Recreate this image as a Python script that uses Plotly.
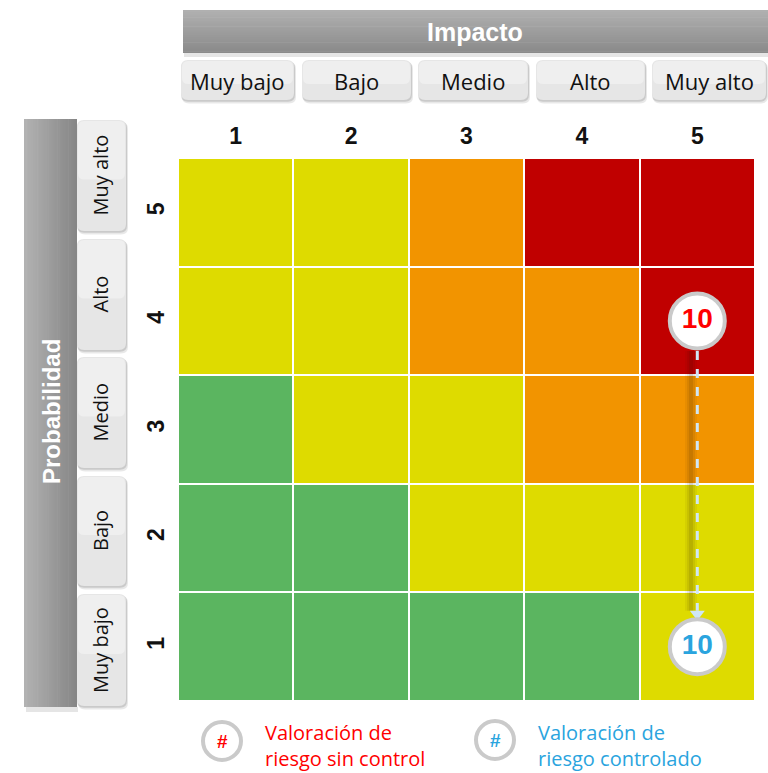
import plotly.graph_objects as go

W, H = 768, 773

# ---------------- data ----------------
impact_labels = ["Muy bajo", "Bajo", "Medio", "Alto", "Muy alto"]
prob_labels = ["Muy bajo", "Bajo", "Medio", "Alto", "Muy alto"]
impact_levels = [1, 2, 3, 4, 5]
prob_levels = [1, 2, 3, 4, 5]
# risk zone per cell (rows = probability 1..5, cols = impact 1..5)
# 0 = bajo (verde), 1 = moderado (amarillo), 2 = alto (naranja), 3 = extremo (rojo)
risk_zone = [
    [0, 0, 0, 0, 1],
    [0, 0, 1, 1, 1],
    [0, 1, 1, 2, 2],
    [1, 1, 2, 2, 3],
    [1, 1, 2, 3, 3],
]
zone_colors = ["#5BB560", "#DEDB00", "#F29400", "#C00000"]
risk_without_control = {"impact": 5, "prob": 4, "label": "10"}
risk_with_control = {"impact": 5, "prob": 1, "label": "10"}
legend_items = ["Valoración de<br>riesgo sin control", "Valoración de<br>riesgo controlado"]

RED = "#FF0000"
BLUE = "#2AA4DE"

# ---------------- helpers ----------------
def px(x):
    return x / W

def py(y):
    return 1 - y / H

shapes = []
annotations = []

def ann(text, x, y, size, color, family, angle=0, xanchor="center"):
    annotations.append(dict(text=text, x=px(x), y=py(y), xref="paper", yref="paper",
                            xanchor=xanchor, yanchor="middle", align="left" if xanchor == "left" else "center",
                            showarrow=False, textangle=angle,
                            font=dict(family=family, size=size, color=color)))

def hx(c):
    return [int(c[i:i + 2], 16) for i in (1, 3, 5)]

def grad_rect(x0, y0, x1, y1, c0, c1, n=24, vertical=True):
    a, b = hx(c0), hx(c1)
    for i in range(n):
        t = i / (n - 1)
        col = "rgb(%d,%d,%d)" % tuple(round(a[k] + (b[k] - a[k]) * t) for k in range(3))
        if vertical:
            ya = y0 + (y1 - y0) * i / n
            yb = y0 + (y1 - y0) * (i + 1) / n + 0.6
            shapes.append(dict(type="rect", xref="paper", yref="paper",
                               x0=px(x0), x1=px(x1), y0=py(ya), y1=py(min(yb, y1)),
                               fillcolor=col, line=dict(width=0), layer="below"))
        else:
            xa = x0 + (x1 - x0) * i / n
            xb = x0 + (x1 - x0) * (i + 1) / n + 0.6
            shapes.append(dict(type="rect", xref="paper", yref="paper",
                               x0=px(xa), x1=px(min(xb, x1)), y0=py(y0), y1=py(y1),
                               fillcolor=col, line=dict(width=0), layer="below"))

def round_rect(x0, y0, x1, y1, r, fill, layer="below"):
    p = (f"M {px(x0 + r)},{py(y0)} L {px(x1 - r)},{py(y0)} "
         f"Q {px(x1)},{py(y0)} {px(x1)},{py(y0 + r)} "
         f"L {px(x1)},{py(y1 - r)} Q {px(x1)},{py(y1)} {px(x1 - r)},{py(y1)} "
         f"L {px(x0 + r)},{py(y1)} Q {px(x0)},{py(y1)} {px(x0)},{py(y1 - r)} "
         f"L {px(x0)},{py(y0 + r)} Q {px(x0)},{py(y0)} {px(x0 + r)},{py(y0)} Z")
    shapes.append(dict(type="path", xref="paper", yref="paper", path=p,
                       fillcolor=fill, line=dict(width=0), layer=layer))

def label_box(x0, y0, x1, y1):
    round_rect(x0 + 1, y0 + 2, x1 + 2, y1 + 3.5, 7, "rgba(0,0,0,0.09)")
    round_rect(x0, y0 + 1, x1 + 1, y1 + 1.8, 7, "rgba(0,0,0,0.13)")
    round_rect(x0, y0, x1, y1, 7, "#E6E6E6")
    # soft lighter top half
    round_rect(x0 + 1, y0 + 1, x1 - 1, (y0 + y1) / 2 + 4, 6, "rgba(255,255,255,0.35)")

LBL_FONT = "Open Sans, Lato, sans-serif"
BOLD_FONT = "Liberation Sans, Arial, sans-serif"

# ---------------- Impacto header ----------------
shapes.append(dict(type="rect", xref="paper", yref="paper", x0=px(184), x1=px(768),
                   y0=py(53), y1=py(57), fillcolor="rgba(0,0,0,0.10)", line=dict(width=0), layer="below"))
grad_rect(183, 10, 768, 53, "#B0B0B0", "#8A8A8A", vertical=True)
ann("<b>Impacto</b>", 475, 32, 25, "white", BOLD_FONT)

col_boxes = [(181, 294), (302, 411), (418, 528), (536, 645), (652, 766)]
for (a, b), lab in zip(col_boxes, impact_labels):
    label_box(a, 60, b, 100)
    ann(lab, (a + b) / 2, 81, 22, "#111111", LBL_FONT)

# ---------------- Probabilidad header ----------------
shapes.append(dict(type="rect", xref="paper", yref="paper", x0=px(26), x1=px(78),
                   y0=py(707), y1=py(712), fillcolor="rgba(0,0,0,0.10)", line=dict(width=0), layer="below"))
grad_rect(24, 119, 77, 707, "#B2B2B2", "#868686", vertical=False)
ann("<b>Probabilidad</b>", 51, 412, 24, "white", BOLD_FONT, angle=-90)

row_boxes = [(594, 706), (476, 586), (357, 468), (239, 350), (120, 231)]
for (a, b), lab in zip(row_boxes, prob_labels):
    label_box(77, a, 126, b)
    ann(lab, 100, (a + b) / 2, 20, "#111111", LBL_FONT, angle=-90)

# ---------------- heatmap ----------------
n = len(zone_colors)
cs = []
for i, c in enumerate(zone_colors):
    cs.append([i / n, c])
    cs.append([(i + 1) / n, c])

fig = go.Figure()
fig.add_trace(go.Heatmap(
    x=impact_levels, y=prob_levels, z=risk_zone,
    colorscale=cs, zmin=-0.5, zmax=n - 0.5, showscale=False,
    xgap=2, ygap=2, hoverinfo="skip"))

# arrow (soft shadow + dashed line + head)
ri, rc = risk_without_control, risk_with_control
row_h = 108.6
off_top = 30 / row_h
off_bot = 36 / row_h
for w, a in ((12, 0.05), (8, 0.07), (4, 0.10)):
    fig.add_trace(go.Scatter(
        x=[ri["impact"] - 0.055, rc["impact"] - 0.055],
        y=[ri["prob"] - off_top, rc["prob"] + off_bot],
        mode="lines", line=dict(color="rgba(40,20,0,%.2f)" % a, width=w),
        hoverinfo="skip", showlegend=False))
fig.add_trace(go.Scatter(
    x=[ri["impact"], rc["impact"]],
    y=[ri["prob"] - off_top, rc["prob"] + off_bot],
    mode="lines", line=dict(color="#CFE6F6", width=3, dash="dash"),
    hoverinfo="skip", showlegend=False))
fig.add_trace(go.Scatter(
    x=[rc["impact"]], y=[rc["prob"] + off_bot - 0.03],
    mode="markers", marker=dict(symbol="triangle-down", size=13, color="#CFE6F6"),
    hoverinfo="skip", showlegend=False))

# risk markers
for r, col in ((ri, RED), (rc, BLUE)):
    fig.add_trace(go.Scatter(
        x=[r["impact"]], y=[r["prob"]], mode="markers+text",
        text=["<b>%s</b>" % r["label"]], textposition="middle center",
        textfont=dict(family=BOLD_FONT, size=28, color=col),
        marker=dict(size=55, color="white", line=dict(color="#CACACA", width=4)),
        hoverinfo="skip", showlegend=False))

# ---------------- legend ----------------
for (cx, cy, tx, col, lab) in ((222, 741, 263, RED, legend_items[0]),
                               (495, 740, 536, BLUE, legend_items[1])):
    rr = 19
    shapes.append(dict(type="circle", xref="paper", yref="paper",
                       x0=px(cx - rr), x1=px(cx + rr), y0=py(cy + rr), y1=py(cy - rr),
                       fillcolor="white", line=dict(color="#CACACA", width=4)))
    ann("<b>#</b>", cx, cy, 19, col, BOLD_FONT)
    ann(lab, tx, 745, 20, col, LBL_FONT, xanchor="left")

# ---------------- layout ----------------
fig.update_layout(
    width=W, height=H, autosize=False,
    margin=dict(l=0, r=0, t=0, b=0),
    paper_bgcolor="white", plot_bgcolor="white",
    shapes=shapes, annotations=annotations, showlegend=False,
    xaxis=dict(domain=[px(178), px(755)], range=[0.5, 5.5], side="top",
               tickmode="array", tickvals=impact_levels,
               ticktext=["<b>%d</b>" % v for v in impact_levels],
               tickfont=dict(family=BOLD_FONT, size=23, color="#111111"),
               ticks="outside", ticklen=4, tickcolor="rgba(0,0,0,0)",
               showgrid=False, zeroline=False, showline=False, fixedrange=True),
    yaxis=dict(domain=[py(701), py(158)], range=[0.5, 5.5],
               tickmode="array", tickvals=prob_levels,
               ticktext=["<b>%d</b>" % v for v in prob_levels],
               tickfont=dict(family=BOLD_FONT, size=23, color="#111111"),
               tickangle=-90,
               ticks="outside", ticklen=4, tickcolor="rgba(0,0,0,0)",
               showgrid=False, zeroline=False, showline=False, fixedrange=True),
)

fig.write_html("out.html", config={"displayModeBar": False},
               post_script="document.body.style.margin='0';document.body.style.overflow='hidden';")
